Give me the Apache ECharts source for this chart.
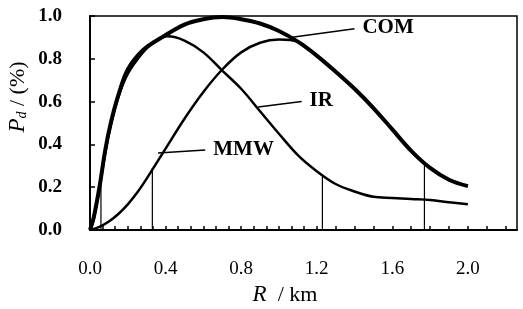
<!DOCTYPE html>
<html>
<head>
<meta charset="utf-8">
<script src="https://cdn.jsdelivr.net/npm/echarts@6/dist/echarts.min.js"></script>
<style>
  html, body { margin: 0; padding: 0; background: #fff; }
  #chart { width: 523px; height: 309px; }
</style>
</head>
<body>
<div id="chart"></div>
<script>
// detection probability vs range
const comR = [0, 0.02, 0.05, 0.08, 0.11, 0.15, 0.2, 0.28, 0.38, 0.5, 0.6, 0.7, 0.8, 0.9, 1.0, 1.1, 1.2, 1.3, 1.4, 1.5, 1.6, 1.7, 1.8, 1.9, 2.0]
const comP = [0, 0.06, 0.2, 0.37, 0.5, 0.63, 0.75, 0.84, 0.9, 0.96, 0.985, 0.995, 0.985, 0.965, 0.93, 0.88, 0.815, 0.74, 0.66, 0.57, 0.47, 0.37, 0.29, 0.235, 0.205]

const irR = [0, 0.02, 0.06, 0.1, 0.15, 0.2, 0.28, 0.33, 0.41, 0.5, 0.6, 0.7, 0.8, 0.9, 1.0, 1.1, 1.2, 1.3, 1.4, 1.5, 1.6, 1.7, 1.8, 1.9, 2.0]
const irP = [0, 0.05, 0.25, 0.45, 0.62, 0.73, 0.83, 0.87, 0.905, 0.885, 0.83, 0.745, 0.66, 0.555, 0.45, 0.35, 0.275, 0.215, 0.18, 0.155, 0.15, 0.145, 0.14, 0.13, 0.12]

const mmwR = [0, 0.05, 0.1, 0.15, 0.2, 0.25, 0.3, 0.4, 0.5, 0.6, 0.7, 0.8, 0.9, 1.0, 1.1, 1.2, 1.3, 1.4, 1.5, 1.6, 1.7, 1.8, 1.9, 2.0]
const mmwP = [0, 0.015, 0.04, 0.075, 0.12, 0.175, 0.24, 0.38, 0.52, 0.645, 0.75, 0.83, 0.875, 0.89, 0.88, 0.815, 0.74, 0.66, 0.57, 0.47, 0.37, 0.29, 0.235, 0.205]

// vertical drop lines
const dropR = [0.058, 0.33, 1.23, 1.77]
const dropP = [0.25, 0.29, 0.25, 0.3]

// curve labels: leader from point on curve to text
const labelNames = ['COM', 'IR', 'MMW']
const leaderFrom = [[1.06, 0.9], [0.89, 0.575], [0.36, 0.36]]
const leaderTo = [[1.4, 0.94], [1.12, 0.6], [0.61, 0.374]]

const xLabels = [0, 0.4, 0.8, 1.2, 1.6, 2.0]
const xTicks = []
for (let i = 0; i <= 17; i++) xTicks.push(i / 15)
for (let i = 12; i <= 22; i++) xTicks.push(i / 10)

const font = 'Liberation Serif'
const pairs = (xs, ys) => xs.map((x, i) => [x, ys[i]])

const chart = echarts.init(document.getElementById('chart'))

const series = [
  { name: 'MMW', data: pairs(mmwR, mmwP), width: 2.5 },
  { name: 'IR', data: pairs(irR, irP), width: 2.5 },
  { name: 'COM', data: pairs(comR, comP), width: 4 }
].map(s => {
  const k = labelNames.indexOf(s.name)
  return {
    name: s.name,
    type: 'line',
    data: s.data,
    smooth: 0.35,
    showSymbol: false,
    lineStyle: { color: '#000', width: s.width },
    markLine: {
      silent: true,
      symbol: 'none',
      lineStyle: { color: '#000', width: 1.5, type: 'solid' },
      label: {
        position: 'end',
        distance: 8,
        formatter: s.name,
        color: '#000',
        fontFamily: font,
        fontWeight: 'bold',
        fontSize: 21
      },
      data: [[{ coord: leaderFrom[k] }, { coord: leaderTo[k] }]]
    },
    z: 3
  }
})

dropR.forEach((r, i) => {
  series.push({
    type: 'line',
    data: [[r, 0], [r, dropP[i]]],
    showSymbol: false,
    lineStyle: { color: '#000', width: 1.2 },
    z: 2
  })
})

chart.setOption({
  backgroundColor: '#fff',
  animation: false,
  grid: {
    left: 90,
    right: 6,
    top: 16,
    bottom: 79,
    show: true,
    borderColor: '#000',
    borderWidth: 1.5
  },
  xAxis: {
    type: 'value',
    min: 0,
    max: 2.26,
    interval: 0.4,
    axisLine: { lineStyle: { color: '#000', width: 2 } },
    axisTick: { inside: true, length: 4, customValues: xTicks, lineStyle: { color: '#000', width: 1.5 } },
    splitLine: { show: false },
    axisLabel: {
      customValues: xLabels,
      formatter: v => v.toFixed(1),
      margin: 30,
      color: '#000',
      fontFamily: font,
      fontSize: 19
    }
  },
  yAxis: {
    type: 'value',
    min: 0,
    max: 1,
    interval: 0.2,
    axisLine: { show: true, lineStyle: { color: '#000', width: 2 } },
    axisTick: { show: true, inside: true, length: 5, lineStyle: { color: '#000', width: 1.5 } },
    splitLine: { show: false },
    axisLabel: {
      formatter: v => v.toFixed(1),
      margin: 28,
      color: '#000',
      fontFamily: font,
      fontWeight: 'bold',
      fontSize: 19
    }
  },
  graphic: [
    {
      type: 'text',
      x: 18,
      y: 97,
      rotation: Math.PI / 2,
      style: {
        text: '{i|P}{s|d}{n| / (%)}',
        align: 'center',
        verticalAlign: 'middle',
        rich: {
          i: { fontFamily: font, fontStyle: 'italic', fontSize: 23, fill: '#000' },
          s: { fontFamily: font, fontStyle: 'italic', fontSize: 14, verticalAlign: 'bottom', fill: '#000' },
          n: { fontFamily: font, fontSize: 22, fill: '#000' }
        }
      }
    },
    {
      type: 'text',
      x: 285,
      y: 295,
      style: {
        text: '{i|R}{n|  / km}',
        align: 'center',
        verticalAlign: 'middle',
        rich: {
          i: { fontFamily: font, fontStyle: 'italic', fontSize: 23, fill: '#000' },
          n: { fontFamily: font, fontSize: 22, fill: '#000' }
        }
      }
    }
  ],
  series: series
})
</script>
</body>
</html>
